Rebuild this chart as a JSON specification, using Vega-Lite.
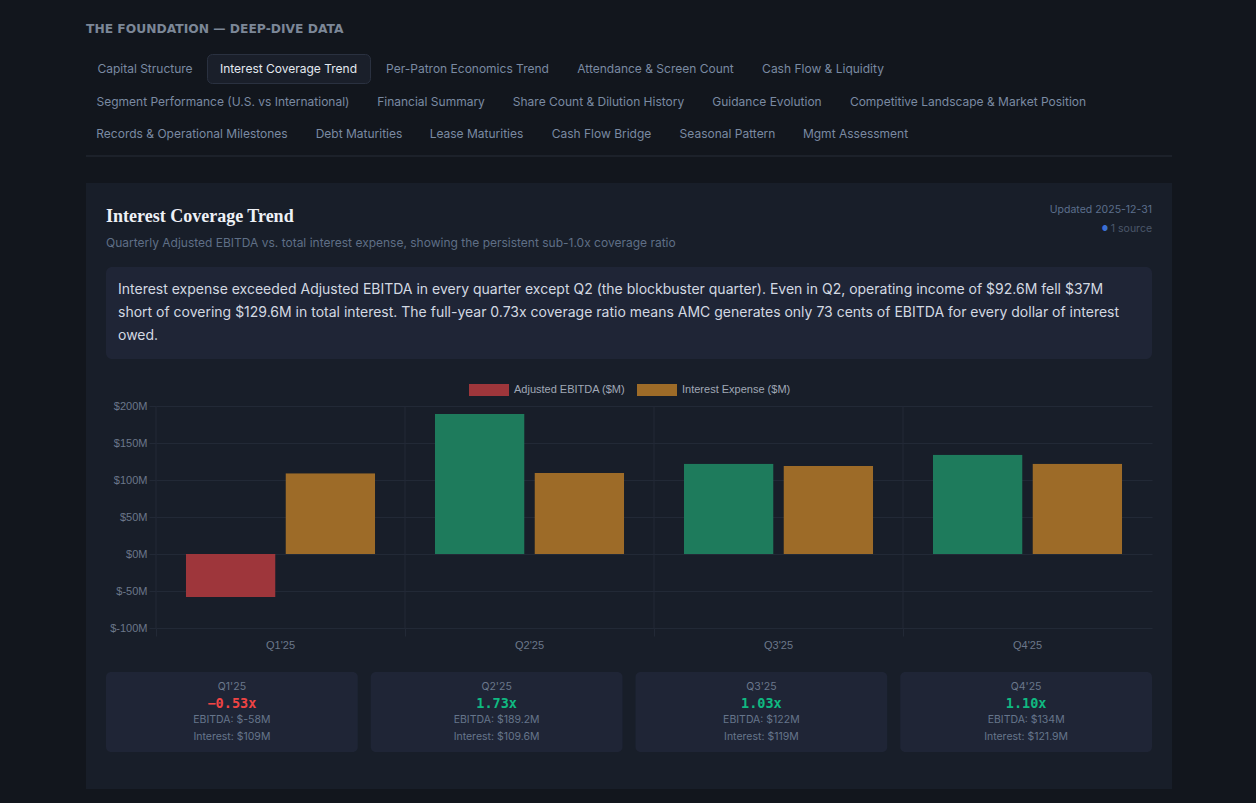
{
  "$schema": "https://vega.github.io/schema/vega-lite/v6.json",
  "background": "#12161d",
  "padding": {"left": 85, "right": 85, "top": 4, "bottom": 15},
  "config": {
    "view": {"stroke": null},
    "font": "Inter",
    "text": {"font": "Inter"}
  },
  "datasets": {
    "quarters": [
      {"quarter": "Q1'25", "ebitda": -58, "interest": 109, "ratio": -0.53},
      {"quarter": "Q2'25", "ebitda": 189.2, "interest": 109.6, "ratio": 1.73},
      {"quarter": "Q3'25", "ebitda": 122, "interest": 119, "ratio": 1.03},
      {"quarter": "Q4'25", "ebitda": 134, "interest": 121.9, "ratio": 1.10}
    ]
  },
  "spacing": 26,
  "vconcat": [
    {
      "spacing": 0,
      "vconcat": [
        {
          "width": 1086,
          "height": 49,
          "data": {"values": [{"label": "THE FOUNDATION — DEEP-DIVE DATA"}]},
          "mark": {"type": "text", "align": "left", "font": "DejaVu Sans", "fontWeight": "bold", "fontSize": 12.3, "fill": "#7c8797"},
          "encoding": {
            "text": {"field": "label"},
            "x": {"datum": "start", "type": "nominal", "scale": {"type": "point", "domain": ["start", "end"], "range": [0, 1086], "padding": 0}, "axis": null}
          }
        },
        {
          "spacing": 3,
          "vconcat": [
            {
              "bounds": "flush",
              "spacing": 3,
              "hconcat": [
                {"width": 118, "height": 29, "data": {"values": [{"tab": "Capital Structure"}]}, "mark": {"type": "text", "fontSize": 12, "fill": "#7a8aa2"}, "encoding": {"text": {"field": "tab"}}},
                {"width": 163, "height": 29, "view": {"fill": "#1a1f2a", "stroke": "#2a3140", "cornerRadius": 5}, "data": {"values": [{"tab": "Interest Coverage Trend"}]}, "mark": {"type": "text", "fontSize": 12, "fill": "#e4e9f0"}, "encoding": {"text": {"field": "tab"}}},
                {"width": 189, "height": 29, "data": {"values": [{"tab": "Per-Patron Economics Trend"}]}, "mark": {"type": "text", "fontSize": 12, "fill": "#7a8aa2"}, "encoding": {"text": {"field": "tab"}}},
                {"width": 181, "height": 29, "data": {"values": [{"tab": "Attendance & Screen Count"}]}, "mark": {"type": "text", "fontSize": 12, "fill": "#7a8aa2"}, "encoding": {"text": {"field": "tab"}}},
                {"width": 148, "height": 29, "data": {"values": [{"tab": "Cash Flow & Liquidity"}]}, "mark": {"type": "text", "fontSize": 12, "fill": "#7a8aa2"}, "encoding": {"text": {"field": "tab"}}}
              ]
            },
            {
              "bounds": "flush",
              "spacing": 3,
              "hconcat": [
                {"width": 274, "height": 29, "data": {"values": [{"tab": "Segment Performance (U.S. vs International)"}]}, "mark": {"type": "text", "fontSize": 12, "fill": "#7a8aa2"}, "encoding": {"text": {"field": "tab"}}},
                {"width": 136, "height": 29, "data": {"values": [{"tab": "Financial Summary"}]}, "mark": {"type": "text", "fontSize": 12, "fill": "#7a8aa2"}, "encoding": {"text": {"field": "tab"}}},
                {"width": 193, "height": 29, "data": {"values": [{"tab": "Share Count & Dilution History"}]}, "mark": {"type": "text", "fontSize": 12, "fill": "#7a8aa2"}, "encoding": {"text": {"field": "tab"}}},
                {"width": 138, "height": 29, "data": {"values": [{"tab": "Guidance Evolution"}]}, "mark": {"type": "text", "fontSize": 12, "fill": "#7a8aa2"}, "encoding": {"text": {"field": "tab"}}},
                {"width": 258, "height": 29, "data": {"values": [{"tab": "Competitive Landscape & Market Position"}]}, "mark": {"type": "text", "fontSize": 12, "fill": "#7a8aa2"}, "encoding": {"text": {"field": "tab"}}}
              ]
            },
            {
              "bounds": "flush",
              "spacing": 3,
              "hconcat": [
                {"width": 212, "height": 29, "data": {"values": [{"tab": "Records & Operational Milestones"}]}, "mark": {"type": "text", "fontSize": 12, "fill": "#7a8aa2"}, "encoding": {"text": {"field": "tab"}}},
                {"width": 116, "height": 29, "data": {"values": [{"tab": "Debt Maturities"}]}, "mark": {"type": "text", "fontSize": 12, "fill": "#7a8aa2"}, "encoding": {"text": {"field": "tab"}}},
                {"width": 113, "height": 29, "data": {"values": [{"tab": "Lease Maturities"}]}, "mark": {"type": "text", "fontSize": 12, "fill": "#7a8aa2"}, "encoding": {"text": {"field": "tab"}}},
                {"width": 131, "height": 29, "data": {"values": [{"tab": "Cash Flow Bridge"}]}, "mark": {"type": "text", "fontSize": 12, "fill": "#7a8aa2"}, "encoding": {"text": {"field": "tab"}}},
                {"width": 115, "height": 29, "data": {"values": [{"tab": "Seasonal Pattern"}]}, "mark": {"type": "text", "fontSize": 12, "fill": "#7a8aa2"}, "encoding": {"text": {"field": "tab"}}},
                {"width": 135, "height": 29, "data": {"values": [{"tab": "Mgmt Assessment"}]}, "mark": {"type": "text", "fontSize": 12, "fill": "#7a8aa2"}, "encoding": {"text": {"field": "tab"}}}
              ]
            }
          ]
        },
        {
          "width": 1086,
          "height": 8,
          "data": {"values": [{"line": "divider"}]},
          "mark": {"type": "rule", "stroke": "#272d38", "strokeWidth": 1},
          "encoding": {
            "y": {"datum": 0, "type": "quantitative", "scale": {"domain": [0, 1]}, "axis": null}
          }
        }
      ]
    },
    {
      "bounds": "flush",
      "spacing": 0,
      "vconcat": [
        {
          "width": 1086,
          "height": 84,
          "view": {"fill": "#181e29"},
          "resolve": {"scale": {"x": "independent", "y": "independent"}},
          "layer": [
            {
              "data": {"values": [{"t": "Interest Coverage Trend"}]},
              "mark": {"type": "text", "align": "left", "font": "Liberation Serif", "fontWeight": "bold", "fontSize": 18, "fill": "#eef1f6"},
              "encoding": {
                "text": {"field": "t"},
                "x": {"datum": "left", "type": "nominal", "scale": {"type": "point", "domain": ["left", "right"], "range": [20, 1066], "padding": 0}, "axis": null},
                "y": {"datum": "title", "type": "nominal", "scale": {"type": "point", "domain": ["title", "subtitle"], "range": [34, 60], "padding": 0}, "axis": null}
              }
            },
            {
              "data": {"values": [{"t": "Quarterly Adjusted EBITDA vs. total interest expense, showing the persistent sub-1.0x coverage ratio"}]},
              "mark": {"type": "text", "align": "left", "fontSize": 12, "fill": "#5f6f86"},
              "encoding": {
                "text": {"field": "t"},
                "x": {"datum": "left", "type": "nominal", "scale": {"type": "point", "domain": ["left", "right"], "range": [20, 1066], "padding": 0}, "axis": null},
                "y": {"datum": "subtitle", "type": "nominal", "scale": {"type": "point", "domain": ["title", "subtitle"], "range": [34, 60], "padding": 0}, "axis": null}
              }
            },
            {
              "data": {"values": [{"t": "Updated 2025-12-31"}]},
              "mark": {"type": "text", "align": "right", "fontSize": 10.5, "fill": "#5c6f8c"},
              "encoding": {
                "text": {"field": "t"},
                "x": {"datum": "right", "type": "nominal", "scale": {"type": "point", "domain": ["dot", "right"], "range": [1019, 1066], "padding": 0}, "axis": null},
                "y": {"datum": "updated", "type": "nominal", "scale": {"type": "point", "domain": ["updated", "source"], "range": [27, 46], "padding": 0}, "axis": null}
              }
            },
            {
              "data": {"values": [{"t": "●"}]},
              "mark": {"type": "text", "fontSize": 7, "fill": "#3b6fd4"},
              "encoding": {
                "text": {"field": "t"},
                "x": {"datum": "dot", "type": "nominal", "scale": {"type": "point", "domain": ["dot", "right"], "range": [1019, 1066], "padding": 0}, "axis": null},
                "y": {"datum": "source", "type": "nominal", "scale": {"type": "point", "domain": ["updated", "source"], "range": [27, 46], "padding": 0}, "axis": null}
              }
            },
            {
              "data": {"values": [{"t": "1 source"}]},
              "mark": {"type": "text", "align": "right", "fontSize": 10.5, "fill": "#4b5769"},
              "encoding": {
                "text": {"field": "t"},
                "x": {"datum": "right", "type": "nominal", "scale": {"type": "point", "domain": ["dot", "right"], "range": [1019, 1066], "padding": 0}, "axis": null},
                "y": {"datum": "source", "type": "nominal", "scale": {"type": "point", "domain": ["updated", "source"], "range": [27, 46], "padding": 0}, "axis": null}
              }
            }
          ]
        },
        {
          "width": 1086,
          "height": 92,
          "view": {"fill": "#181e29"},
          "resolve": {"scale": {"x": "independent", "y": "independent"}},
          "layer": [
            {
              "data": {"values": [{"box": "note"}]},
              "mark": {"type": "rect", "fill": "#1f2536", "cornerRadius": 6},
              "encoding": {
                "x": {"field": "box", "type": "nominal", "scale": {"range": [20, 1066], "paddingInner": 0, "paddingOuter": 0}, "axis": null},
                "y": {"field": "box", "type": "nominal", "scale": {"paddingInner": 0, "paddingOuter": 0}, "axis": null}
              }
            },
            {
              "data": {"values": [
                {"line": 1, "t": "Interest expense exceeded Adjusted EBITDA in every quarter except Q2 (the blockbuster quarter). Even in Q2, operating income of $92.6M fell $37M"},
                {"line": 2, "t": "short of covering $129.6M in total interest. The full-year 0.73x coverage ratio means AMC generates only 73 cents of EBITDA for every dollar of interest"},
                {"line": 3, "t": "owed."}
              ]},
              "mark": {"type": "text", "align": "left", "fontSize": 14, "fill": "#d3d9e2"},
              "encoding": {
                "text": {"field": "t"},
                "x": {"datum": "start", "type": "nominal", "scale": {"type": "point", "domain": ["start", "end"], "range": [32, 1054], "padding": 0}, "axis": null},
                "y": {"field": "line", "type": "ordinal", "scale": {"type": "point", "range": [23, 69], "padding": 0}, "axis": null}
              }
            }
          ]
        },
        {
          "width": 1086,
          "height": 302,
          "view": {"fill": "#181e29"},
          "data": {"name": "quarters"},
          "layer": [
            {
              "mark": {"type": "rule", "stroke": "#222936", "strokeWidth": 1},
              "encoding": {
                "x": {"field": "quarter", "type": "nominal", "sort": null, "bandPosition": 0},
                "y": {"datum": 200, "type": "quantitative"},
                "y2": {"datum": -100}
              }
            },
            {
              "transform": [
                {"fold": ["ebitda", "interest"], "as": ["key", "value"]},
                {"calculate": "datum.key === 'ebitda' ? 'Adjusted EBITDA ($M)' : 'Interest Expense ($M)'", "as": "series"}
              ],
              "mark": {
                "type": "bar",
                "cornerRadiusTopLeft": {"expr": "datum.value >= 0 ? 3 : 0"},
                "cornerRadiusTopRight": {"expr": "datum.value >= 0 ? 3 : 0"},
                "cornerRadiusBottomLeft": {"expr": "datum.value < 0 ? 3 : 0"},
                "cornerRadiusBottomRight": {"expr": "datum.value < 0 ? 3 : 0"}
              },
              "encoding": {
                "x": {
                  "field": "quarter", "type": "nominal", "sort": null,
                  "scale": {"range": [70, 1066], "paddingInner": 0, "paddingOuter": 0},
                  "axis": {
                    "orient": "bottom", "offset": -33, "title": null, "labelAngle": 0,
                    "labelAlign": "center", "labelBaseline": "top",
                    "bandPosition": 0, "grid": false,
                    "ticks": true, "tickSize": 8, "tickColor": "#222936", "domain": false,
                    "labelColor": "#6b778a", "labelFont": "Liberation Sans", "labelFontSize": 11, "labelPadding": 3
                  }
                },
                "y": {
                  "field": "value", "type": "quantitative",
                  "scale": {"domain": [-100, 200], "range": [269, 47], "nice": false},
                  "axis": {
                    "orient": "left", "offset": -70, "title": null,
                    "values": [-100, -50, 0, 50, 100, 150, 200],
                    "labelExpr": "'$' + datum.value + 'M'",
                    "grid": true, "gridColor": "#222936", "domain": false,
                    "ticks": true, "tickSize": 7, "tickColor": "#222936",
                    "labelColor": "#6b778a", "labelFont": "Liberation Sans", "labelFontSize": 11, "labelPadding": 2
                  }
                },
                "xOffset": {
                  "field": "series", "type": "nominal",
                  "sort": ["Adjusted EBITDA ($M)", "Interest Expense ($M)"],
                  "scale": {"paddingInner": 0.1, "paddingOuter": 0.3}
                },
                "color": {
                  "condition": {"test": "datum.key === 'ebitda' && datum.value >= 0", "value": "#1e7b5c"},
                  "field": "series", "type": "nominal",
                  "scale": {"domain": ["Adjusted EBITDA ($M)", "Interest Expense ($M)"], "range": ["#9e363b", "#9d6b28"]},
                  "legend": {
                    "orient": "none", "legendX": 383, "legendY": 366, "direction": "horizontal",
                    "title": null, "padding": 0,
                    "symbolType": "M-1,-0.3H1V0.3H-1Z", "symbolSize": 1600, "symbolStrokeWidth": 0,
                    "labelFont": "Liberation Sans", "labelFontSize": 11, "labelColor": "#a0a8b6",
                    "labelOffset": 5, "columnPadding": 11, "labelLimit": 300
                  }
                }
              }
            }
          ]
        },
        {
          "width": 1086,
          "height": 128,
          "view": {"fill": "#181e29"},
          "data": {"name": "quarters"},
          "transform": [
            {"calculate": "format(datum.ratio, '.2f') + 'x'", "as": "ratioLabel"},
            {"calculate": "'EBITDA: $' + datum.ebitda + 'M'", "as": "ebitdaLabel"},
            {"calculate": "'Interest: $' + datum.interest + 'M'", "as": "interestLabel"}
          ],
          "resolve": {"scale": {"y": "independent"}},
          "encoding": {
            "x": {"field": "quarter", "type": "nominal", "sort": null, "scale": {"range": [20, 1066], "paddingInner": 0.049, "paddingOuter": 0}, "axis": null}
          },
          "layer": [
            {
              "mark": {"type": "rect", "fill": "#1f2536", "cornerRadius": 5},
              "encoding": {
                "y": {"datum": "card", "type": "nominal", "scale": {"type": "band", "domain": ["card"], "range": [11, 91], "paddingInner": 0, "paddingOuter": 0}, "axis": null}
              }
            },
            {
              "mark": {"type": "text", "fontSize": 10.5, "fill": "#6b788c"},
              "encoding": {
                "text": {"field": "quarter"},
                "y": {"datum": "q", "type": "nominal", "scale": {"type": "point", "domain": ["q", "ratio", "ebitda", "interest"], "range": [26, 76], "padding": 0}, "axis": null}
              }
            },
            {
              "mark": {"type": "text", "font": "DejaVu Sans Mono", "fontWeight": "bold", "fontSize": 13.5},
              "encoding": {
                "text": {"field": "ratioLabel"},
                "color": {"condition": {"test": "datum.ratio < 1", "value": "#ef4444"}, "value": "#10b981"},
                "y": {"datum": "ratio", "type": "nominal", "scale": {"type": "point", "domain": ["q", "ratio", "ebitda", "interest"], "range": [26, 76], "padding": 0}, "axis": null}
              }
            },
            {
              "mark": {"type": "text", "fontSize": 10.5, "fill": "#66758b"},
              "encoding": {
                "text": {"field": "ebitdaLabel"},
                "y": {"datum": "ebitda", "type": "nominal", "scale": {"type": "point", "domain": ["q", "ratio", "ebitda", "interest"], "range": [26, 76], "padding": 0}, "axis": null}
              }
            },
            {
              "mark": {"type": "text", "fontSize": 10.5, "fill": "#66758b"},
              "encoding": {
                "text": {"field": "interestLabel"},
                "y": {"datum": "interest", "type": "nominal", "scale": {"type": "point", "domain": ["q", "ratio", "ebitda", "interest"], "range": [26, 76], "padding": 0}, "axis": null}
              }
            }
          ]
        }
      ]
    }
  ]
}
